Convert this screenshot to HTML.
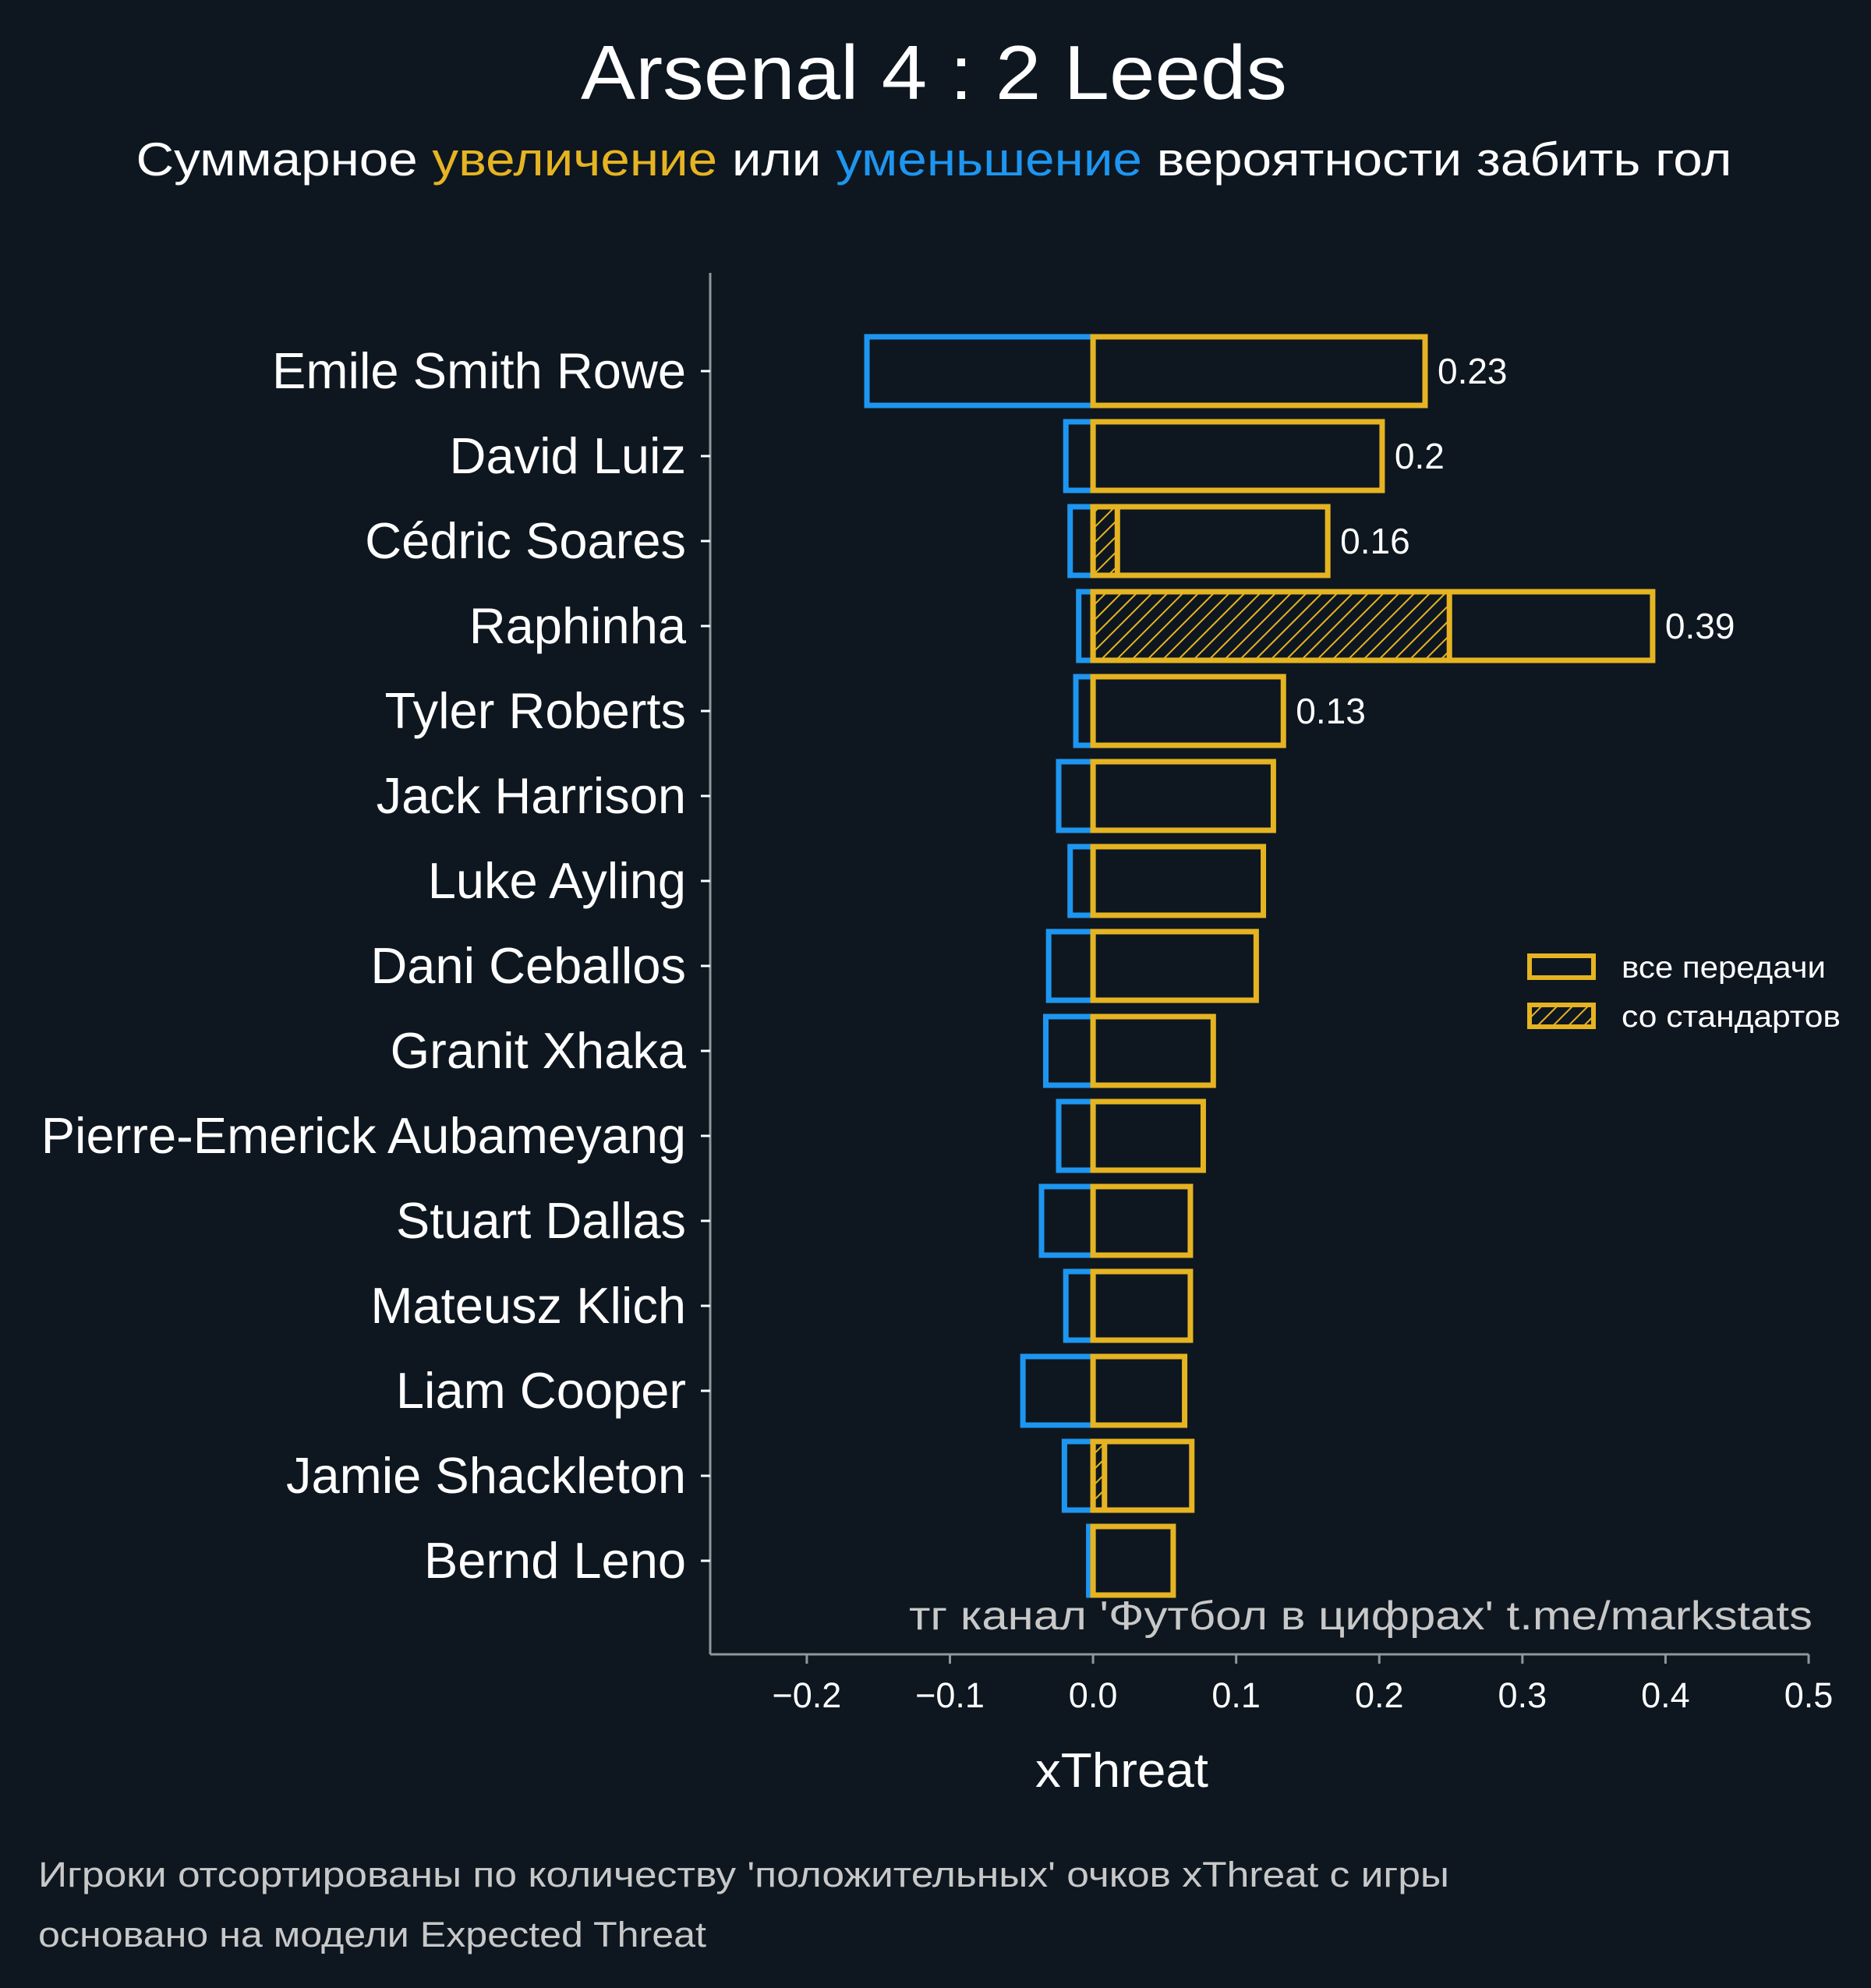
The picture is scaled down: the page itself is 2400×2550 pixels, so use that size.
<!DOCTYPE html>
<html><head><meta charset="utf-8"><style>
html,body{margin:0;padding:0;background:#0e1720;}
svg{display:block;font-family:"Liberation Sans","DejaVu Sans",sans-serif;}
</style></head><body>
<svg id="chart" width="2400" height="2550" viewBox="0 0 2400 2550" xmlns="http://www.w3.org/2000/svg">
<defs>
<pattern id="hatch" patternUnits="userSpaceOnUse" width="14" height="14" patternTransform="rotate(45)">
<rect width="14" height="14" fill="#0e1720"/>
<line x1="0" y1="0" x2="0" y2="14" stroke="#e6b422" stroke-width="4"/>
</pattern>
</defs>
<rect width="2400" height="2550" fill="#0e1720"/>
<text x="1198" y="127" text-anchor="middle" font-size="98" fill="#ffffff" textLength="906" lengthAdjust="spacingAndGlyphs">Arsenal 4 : 2 Leeds</text>
<text x="1198" y="225" text-anchor="middle" font-size="60" fill="#ffffff" textLength="2047" lengthAdjust="spacingAndGlyphs">Суммарное <tspan fill="#e6b422">увеличение</tspan> или <tspan fill="#1e96f0">уменьшение</tspan> вероятности забить гол</text>
<g id="plot"></g>
<text x="2325" y="2090" text-anchor="end" font-size="52" fill="#c8c8c8" textLength="1159" lengthAdjust="spacingAndGlyphs">тг канал 'Футбол в цифрах'  t.me/markstats</text>
<text x="1439" y="2292" text-anchor="middle" font-size="62" fill="#ffffff" textLength="222" lengthAdjust="spacingAndGlyphs">xThreat</text>
<g>
<rect x="1962" y="1226" width="82" height="28" fill="none" stroke="#e6b422" stroke-width="6"/>
<text x="2080" y="1254" font-size="39" fill="#ffffff" textLength="262" lengthAdjust="spacingAndGlyphs">все передачи</text>
<rect x="1962" y="1289" width="82" height="28" fill="url(#hatch)" stroke="#e6b422" stroke-width="6"/>
<text x="2080" y="1317" font-size="39" fill="#ffffff" textLength="281" lengthAdjust="spacingAndGlyphs">со стандартов</text>
</g>
<text x="49" y="2420" font-size="45" fill="#c8c8c8" textLength="1810" lengthAdjust="spacingAndGlyphs">Игроки отсортированы по количеству 'положительных' очков xThreat с игры</text>
<text x="49" y="2497" font-size="45" fill="#c8c8c8" textLength="857" lengthAdjust="spacingAndGlyphs">основано на модели Expected Threat</text>
</svg>
<script>
const players = ["Emile Smith Rowe","David Luiz","Cédric Soares","Raphinha","Tyler Roberts","Jack Harrison","Luke Ayling","Dani Ceballos","Granit Xhaka","Pierre-Emerick Aubameyang","Stuart Dallas","Mateusz Klich","Liam Cooper","Jamie Shackleton","Bernd Leno"];
const positiveVals = [0.232,0.202,0.164,0.391,0.133,0.126,0.119,0.114,0.084,0.077,0.068,0.068,0.064,0.069,0.056];
const setPieceVals = [0,0,0.017,0.249,0,0,0,0,0,0,0,0,0,0.008,0];
const negativeVals = [-0.158,-0.019,-0.016,-0.010,-0.012,-0.024,-0.016,-0.031,-0.033,-0.024,-0.036,-0.019,-0.049,-0.020,-0.003];
const valueLabels = ["0.23","0.2","0.16","0.39","0.13","","","","","","","","","",""];
const xTicks = [-0.2,-0.1,0.0,0.1,0.2,0.3,0.4,0.5];
const xTickLabels = ["−0.2","−0.1","0.0","0.1","0.2","0.3","0.4","0.5"];

const NS="http://www.w3.org/2000/svg";
const plot=document.getElementById('plot');
const xMin=-0.2675, xMax=0.5, pxL=911, pxR=2320;
const X=v=>pxL+(v-xMin)/(xMax-xMin)*(pxR-pxL);
const Y=i=>476+i*109;
const barH=88, gold="#e6b422", blue="#1e96f0";
function mk(tag,attrs){const e=document.createElementNS(NS,tag);for(const k in attrs)e.setAttribute(k,attrs[k]);plot.appendChild(e);return e;}

const sp=mk('line',{x1:pxL,y1:350,x2:pxL,y2:2122,stroke:'#8a9a9a','stroke-width':3});


const sb=mk('line',{x1:pxL,y1:2122,x2:pxR,y2:2122,stroke:'#8a9a9a','stroke-width':3});



xTicks.forEach((t,i)=>{
  const tk=mk('line',{x1:X(t),y1:2122,x2:X(t),y2:2134,stroke:'#8a9a9a','stroke-width':3});
  
  
  const tl=mk('text',{x:X(t),y:2190,'text-anchor':'middle','font-size':45,fill:'#ffffff'});
  tl.textContent=xTickLabels[i];
  
  
});

players.forEach((p,i)=>{
  const y=Y(i);
  const tk=mk('line',{x1:pxL-12,y1:y,x2:pxL,y2:y,stroke:'#ffffff','stroke-width':3});
  
  
  const lb=mk('text',{x:880,y:y+22,'text-anchor':'end','font-size':65,fill:'#ffffff'});
  lb.textContent=p;
  
  

  const n=negativeVals[i];
  const nb=mk('rect',{x:X(n),y:y-barH/2,width:X(0)-X(n),height:barH,fill:'none',stroke:blue,'stroke-width':7});
  
  

  if(setPieceVals[i]>0){
    const hb=mk('rect',{x:X(0),y:y-barH/2,width:X(setPieceVals[i])-X(0),height:barH,fill:'url(#hatch)',stroke:gold,'stroke-width':7});
    
    
  }
  const pb=mk('rect',{x:X(0),y:y-barH/2,width:X(positiveVals[i])-X(0),height:barH,fill:'none',stroke:gold,'stroke-width':7});
  
  

  if(valueLabels[i]){
    const vl=mk('text',{x:X(positiveVals[i])+16,y:y+16,'font-size':46,fill:'#ffffff'});
    vl.textContent=valueLabels[i];
    
    
  }
});
</script>
</body></html>
